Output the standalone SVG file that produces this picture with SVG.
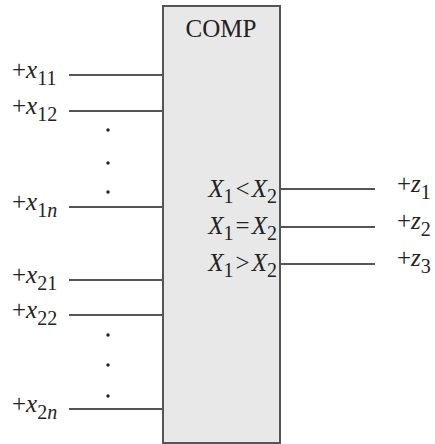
<svg xmlns="http://www.w3.org/2000/svg" width="435" height="444" viewBox="0 0 435 444">
<style>
.ln{stroke:#555;stroke-width:2;fill:none}
.t{font-family:"Liberation Serif","Times New Roman",serif;font-size:25px;fill:#222}
.i{font-style:italic}
.s{font-size:20px}
.d{fill:#222}
</style>
<rect width="435" height="444" fill="#fff"/>
<g id="comp">
<rect x="163" y="6" width="117" height="437" fill="#e8e8e8" stroke="#555" stroke-width="2"/>
<text class="t" x="221" y="37" text-anchor="middle">COMP</text>
<text class="t" x="277" y="197" text-anchor="end"><tspan class="i">X</tspan><tspan class="s" dy="6">1</tspan><tspan dy="-6" dx="2">&lt;</tspan><tspan class="i" dx="2">X</tspan><tspan class="s" dy="6">2</tspan></text>
<text class="t" x="277" y="234" text-anchor="end"><tspan class="i">X</tspan><tspan class="s" dy="6">1</tspan><tspan dy="-6" dx="2">=</tspan><tspan class="i" dx="2">X</tspan><tspan class="s" dy="6">2</tspan></text>
<text class="t" x="277" y="271" text-anchor="end"><tspan class="i">X</tspan><tspan class="s" dy="6">1</tspan><tspan dy="-6" dx="2">&gt;</tspan><tspan class="i" dx="2">X</tspan><tspan class="s" dy="6">2</tspan></text>
</g>
<g id="inputs">
<text class="t" x="12" y="78">+<tspan class="i">x</tspan><tspan class="s" dy="7">11</tspan></text>
<text class="t" x="12" y="114">+<tspan class="i">x</tspan><tspan class="s" dy="7">12</tspan></text>
<text class="t" x="12" y="210">+<tspan class="i">x</tspan><tspan class="s" dy="7">1<tspan class="i">n</tspan></tspan></text>
<text class="t" x="12" y="283">+<tspan class="i">x</tspan><tspan class="s" dy="7">21</tspan></text>
<text class="t" x="12" y="318">+<tspan class="i">x</tspan><tspan class="s" dy="7">22</tspan></text>
<text class="t" x="12" y="412">+<tspan class="i">x</tspan><tspan class="s" dy="7">2<tspan class="i">n</tspan></tspan></text>
<circle class="d" cx="108" cy="130" r="1.7"/>
<circle class="d" cx="108" cy="163" r="1.7"/>
<circle class="d" cx="108" cy="192" r="1.7"/>
<circle class="d" cx="108" cy="335" r="1.7"/>
<circle class="d" cx="108" cy="365" r="1.7"/>
<circle class="d" cx="108" cy="396" r="1.7"/>
</g>
<g id="outputs">
<text class="t" x="397" y="192">+<tspan class="i">z</tspan><tspan class="s" dy="7">1</tspan></text>
<text class="t" x="397" y="229">+<tspan class="i">z</tspan><tspan class="s" dy="7">2</tspan></text>
<text class="t" x="397" y="266">+<tspan class="i">z</tspan><tspan class="s" dy="7">3</tspan></text>
</g>
<g id="connectors">
<line class="ln" x1="69" y1="75" x2="163" y2="75"/>
<line class="ln" x1="69" y1="111" x2="163" y2="111"/>
<line class="ln" x1="69" y1="207" x2="163" y2="207"/>
<line class="ln" x1="69" y1="280" x2="163" y2="280"/>
<line class="ln" x1="69" y1="315" x2="163" y2="315"/>
<line class="ln" x1="69" y1="409" x2="163" y2="409"/>
<line class="ln" x1="280" y1="189" x2="375" y2="189"/>
<line class="ln" x1="280" y1="227" x2="375" y2="227"/>
<line class="ln" x1="280" y1="264" x2="375" y2="264"/>
</g>
</svg>
